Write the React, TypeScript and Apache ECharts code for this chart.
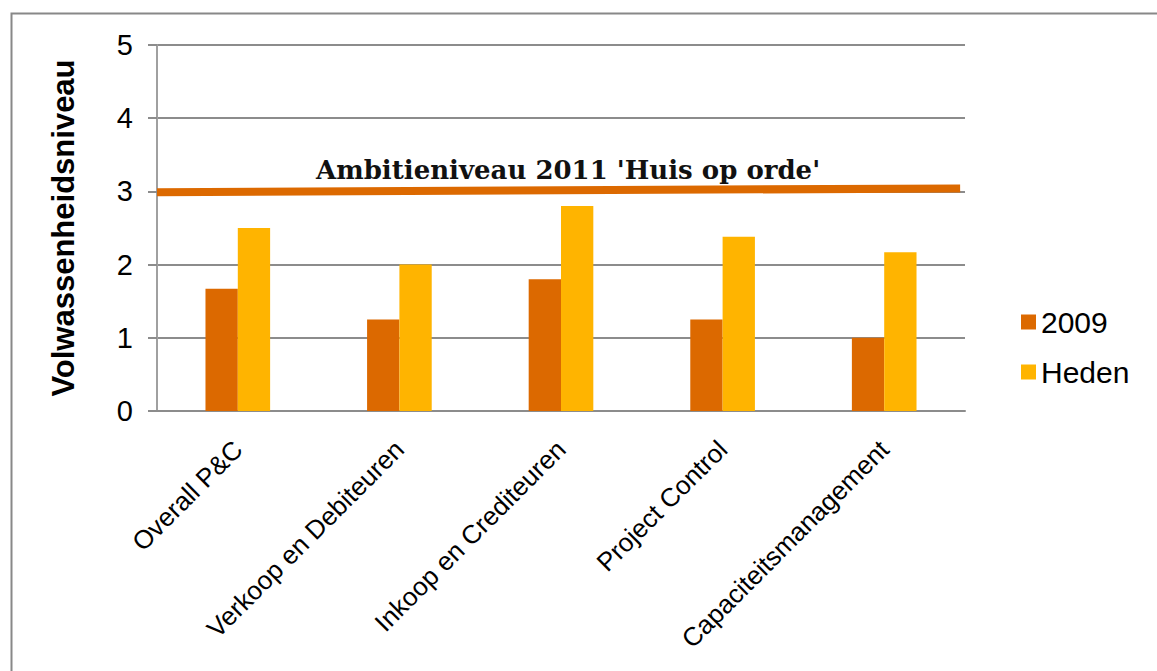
import React, { useEffect, useRef } from "react";
import * as echarts from "echarts";

const categories = [
  "Overall P&C",
  "Verkoop en Debiteuren",
  "Inkoop en Crediteuren",
  "Project Control",
  "Capaciteitsmanagement",
];
const values2009 = [1.67, 1.25, 1.8, 1.25, 1.0];
const valuesHeden = [2.5, 2.0, 2.8, 2.38, 2.17];
const ambitionLine = [
  [0, 2.99],
  [0.994, 3.04],
];
const yTicks = { min: 0, max: 5, interval: 1 };
const seriesNames = ["2009", "Heden"];
const ambitionText = "Ambitieniveau 2011 'Huis op orde'";
const yAxisName = "Volwassenheidsniveau";

export default function App() {
  const ref = useRef<HTMLDivElement>(null);
  useEffect(() => {
    if (!ref.current) return;
    const chart = echarts.init(ref.current, null, { renderer: "svg" });
    const sans = "Liberation Sans, Arial, sans-serif";
    chart.setOption({
      animation: false,
      backgroundColor: "#ffffff",
      title: {
        text: ambitionText,
        left: 311,
        top: 152,
        textStyle: {
          fontFamily: "DejaVu Serif, Liberation Serif, serif",
          fontWeight: "bold",
          fontSize: 26,
          color: "#111",
        },
      },
      graphic: [
        {
          type: "rect",
          left: 9,
          top: 11,
          shape: { width: 1300, height: 800 },
          style: { fill: "none", stroke: "#888888", lineWidth: 2 },
          silent: true,
        },
      ],
      legend: {
        orient: "vertical",
        left: 1016,
        top: 302,
        itemWidth: 15,
        itemHeight: 15,
        itemGap: 20,
        icon: "rect",
        data: seriesNames,
        textStyle: { fontFamily: sans, fontSize: 30, color: "#000" },
      },
      grid: { left: 157, top: 45, right: 192, bottom: 260, containLabel: false },
      xAxis: [
        {
          type: "category",
          data: categories,
          axisLine: { show: true, lineStyle: { color: "#8c8c8c", width: 2 } },
          axisTick: { show: false },
          axisLabel: {
            interval: 0,
            rotate: 45,
            margin: 34,
            fontFamily: sans,
            fontSize: 26,
            color: "#000",
          },
        },
        {
          type: "value",
          min: 0,
          max: 1,
          show: false,
        },
      ],
      yAxis: {
        type: "value",
        min: yTicks.min,
        max: yTicks.max,
        interval: yTicks.interval,
        name: yAxisName,
        nameLocation: "middle",
        nameRotate: 90,
        nameGap: 78,
        nameTextStyle: {
          fontFamily: sans,
          fontWeight: "bold",
          fontSize: 31,
          color: "#000",
        },
        axisLine: { show: true, lineStyle: { color: "#a0a0a0", width: 2 } },
        axisTick: { show: true, length: 9, lineStyle: { color: "#8c8c8c", width: 2 } },
        axisLabel: { margin: 24, fontFamily: sans, fontSize: 29, color: "#000" },
        splitLine: { show: true, lineStyle: { color: "#8c8c8c", width: 2 } },
      },
      series: [
        {
          name: seriesNames[0],
          type: "bar",
          data: values2009,
          barGap: "0%",
          barCategoryGap: "60%",
          itemStyle: { color: "#dc6900" },
          z: 3,
        },
        {
          name: seriesNames[1],
          type: "bar",
          data: valuesHeden,
          barGap: "0%",
          barCategoryGap: "60%",
          itemStyle: { color: "#ffb400" },
          z: 3,
        },
        {
          name: "Ambitieniveau",
          type: "line",
          xAxisIndex: 1,
          data: ambitionLine,
          symbol: "none",
          lineStyle: { color: "#dc6900", width: 8 },
          z: 4,
          silent: true,
        },
      ],
    });
    return () => chart.dispose();
  }, []);
  return (
    <div
      ref={ref}
      style={{ position: "absolute", left: 0, top: 0, width: 1157, height: 671 }}
    />
  );
}
